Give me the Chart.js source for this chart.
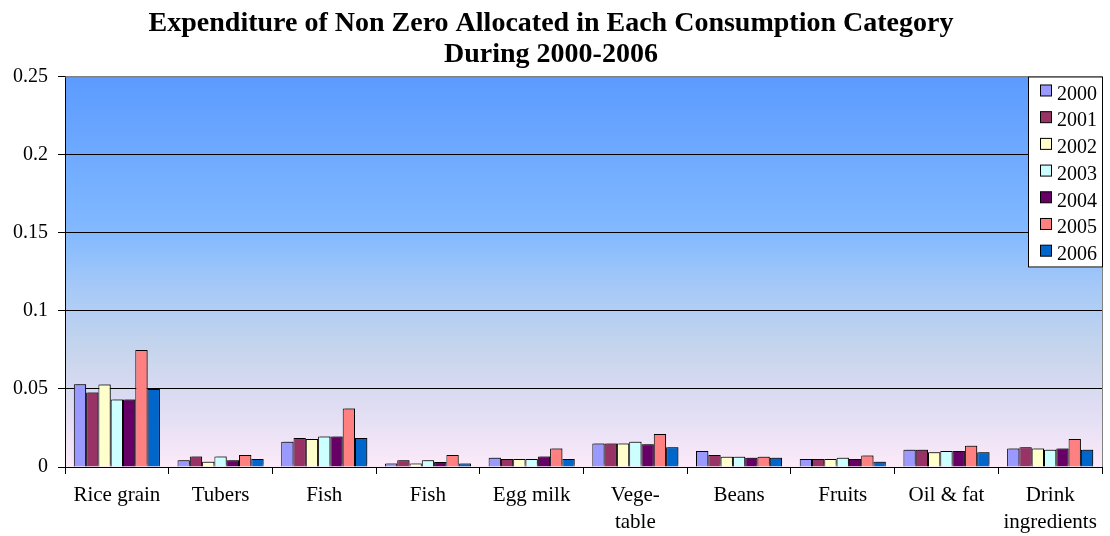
<!DOCTYPE html>
<html>
<head>
<meta charset="utf-8">
<script src="https://cdn.jsdelivr.net/npm/chart.js@4.4.1/dist/chart.umd.min.js"></script>
<style>
  html, body { margin: 0; padding: 0; background: #ffffff; }
  #wrap { width: 1110px; height: 536px; }
</style>
</head>
<body>
<div id="wrap"><canvas id="chart" width="1110" height="536"></canvas></div>
<script>
// Consumption categories (multi-line labels are arrays)
const categories = [
  'Rice grain', 'Tubers', 'Fish', 'Fish', 'Egg milk',
  ['Vege-', 'table'], 'Beans', 'Fruits', 'Oil & fat', ['Drink', 'ingredients']
];

const years = ['2000', '2001', '2002', '2003', '2004', '2005', '2006'];

// Expenditure share per category, one array per year
const v2000 = [0.0530, 0.0043, 0.0162, 0.0023, 0.0060, 0.0151, 0.0102, 0.0051, 0.0111, 0.0119];
const v2001 = [0.0477, 0.0068, 0.0185, 0.0043, 0.0051, 0.0151, 0.0077, 0.0051, 0.0111, 0.0126];
const v2002 = [0.0528, 0.0034, 0.0179, 0.0023, 0.0051, 0.0151, 0.0066, 0.0051, 0.0094, 0.0119];
const v2003 = [0.0432, 0.0068, 0.0196, 0.0043, 0.0051, 0.0162, 0.0066, 0.0060, 0.0102, 0.0111];
const v2004 = [0.0432, 0.0043, 0.0196, 0.0032, 0.0068, 0.0145, 0.0060, 0.0051, 0.0102, 0.0119];
const v2005 = [0.0749, 0.0077, 0.0374, 0.0077, 0.0119, 0.0211, 0.0066, 0.0074, 0.0136, 0.0179];
const v2006 = [0.0500, 0.0051, 0.0185, 0.0023, 0.0051, 0.0126, 0.0060, 0.0034, 0.0094, 0.0111];

const yTicks = [0, 0.05, 0.1, 0.15, 0.2, 0.25];

const seriesValues = [v2000, v2001, v2002, v2003, v2004, v2005, v2006];
const seriesColors = ['#9999FF', '#993366', '#FFFFCC', '#CCFFFF', '#660066', '#FF8080', '#0066CC'];

const SERIF = "'Liberation Serif', 'DejaVu Serif', serif";

// Gradient fill behind the plot area
const plotBackground = {
  id: 'plotBackground',
  beforeDraw(chart) {
    const { ctx, chartArea: a } = chart;
    const g = ctx.createLinearGradient(0, a.top, 0, a.bottom);
    g.addColorStop(0.00, '#5C9BFF');
    g.addColorStop(0.40, '#82B9FF');
    g.addColorStop(0.55, '#A8CAF7');
    g.addColorStop(0.70, '#C6D5EC');
    g.addColorStop(0.85, '#E0DDF3');
    g.addColorStop(1.00, '#FCEAF9');
    ctx.save();
    ctx.fillStyle = g;
    ctx.fillRect(a.left, a.top, a.right - a.left, a.bottom - a.top);
    ctx.restore();
  },
  afterDraw(chart) {
    // grey frame on top and right of the plot
    const { ctx, chartArea: a } = chart;
    ctx.save();
    ctx.strokeStyle = '#808080';
    ctx.lineWidth = 1;
    ctx.beginPath();
    ctx.moveTo(a.left, a.top + 0.5);
    ctx.lineTo(a.right + 0.5, a.top + 0.5);
    ctx.lineTo(a.right + 0.5, a.bottom);
    ctx.stroke();
    ctx.restore();
  }
};

// Soft drop shadow under the bars
const barShadow = {
  id: 'barShadow',
  beforeDatasetsDraw(chart) {
    const ctx = chart.ctx;
    ctx.save();
    ctx.shadowColor = 'rgba(0,0,0,0.35)';
    ctx.shadowOffsetX = 2;
    ctx.shadowOffsetY = -2;
    ctx.shadowBlur = 0;
  },
  afterDatasetsDraw(chart) {
    chart.ctx.restore();
  }
};

// Boxed legend drawn over the upper right of the plot
const boxLegend = {
  id: 'boxLegend',
  afterDraw(chart) {
    const { ctx, chartArea: a } = chart;
    const x = 1028, y = a.top, w = Math.round(a.right) - 1028 + 1, h = 191;
    ctx.save();
    ctx.fillStyle = '#ffffff';
    ctx.fillRect(x, y, w, h);
    ctx.beginPath();
    ctx.rect(x, y, w, h);
    ctx.clip();
    ctx.font = '20px ' + SERIF;
    ctx.textBaseline = 'middle';
    chart.data.datasets.forEach((ds, i) => {
      const cy = y + 17 + i * 26.7;
      ctx.fillStyle = ds.backgroundColor;
      ctx.fillRect(x + 12.5, cy - 8.5, 11, 11);
      ctx.strokeStyle = '#000000';
      ctx.lineWidth = 1;
      ctx.strokeRect(x + 12.5, cy - 8.5, 11, 11);
      ctx.fillStyle = '#000000';
      ctx.fillText(ds.label, x + 29, cy + 1);
    });
    ctx.restore();
    ctx.save();
    ctx.strokeStyle = '#000000';
    ctx.lineWidth = 1;
    ctx.strokeRect(x + 0.5, y + 0.5, w - 1, h - 1);
    ctx.restore();
  }
};

const datasets = years.map((yr, i) => ({
  label: yr,
  data: seriesValues[i],
  backgroundColor: seriesColors[i],
  borderColor: '#000000',
  borderWidth: 1,
  categoryPercentage: 0.83,
  barPercentage: 1.0
}));

new Chart(document.getElementById('chart'), {
  type: 'bar',
  data: { labels: categories, datasets },
  options: {
    responsive: false,
    devicePixelRatio: 1,
    animation: false,
    layout: { padding: { left: 0, right: 8, top: 0, bottom: 0 } },
    plugins: {
      legend: { display: false },
      tooltip: { enabled: false },
      title: {
        display: true,
        text: ['Expenditure of Non Zero Allocated in Each Consumption Category', 'During 2000-2006'],
        color: '#000000',
        font: { family: SERIF, size: 28, weight: 'bold', lineHeight: 1.08 },
        padding: { top: 9, bottom: 7 }
      }
    },
    scales: {
      x: {
        offset: true,
        grid: {
          offset: true,
          drawOnChartArea: false,
          drawTicks: true,
          tickLength: 7,
          color: '#000000'
        },
        border: { display: true, color: '#000000', width: 1 },
        ticks: {
          color: '#000000',
          font: { family: SERIF, size: 21, lineHeight: 1.3 },
          padding: 8,
          maxRotation: 0,
          autoSkip: false
        },
        afterFit(scale) { scale.height = 69; }
      },
      y: {
        min: 0,
        max: 0.25,
        afterBuildTicks(scale) { scale.ticks = yTicks.map(v => ({ value: v })); },
        grid: {
          color: (c) => (c.tick && c.tick.value === 0.25) ? '#808080' : '#000000',
          lineWidth: 1,
          drawTicks: true,
          tickLength: 7,
          tickColor: '#000000'
        },
        border: { display: true, color: '#000000', width: 1 },
        ticks: {
          color: '#000000',
          font: { family: SERIF, size: 20 },
          padding: 10,
          callback: (v) => String(v)
        },
        afterFit(scale) { scale.width = 65; }
      }
    }
  },
  plugins: [plotBackground, barShadow, boxLegend]
});
</script>
</body>
</html>
